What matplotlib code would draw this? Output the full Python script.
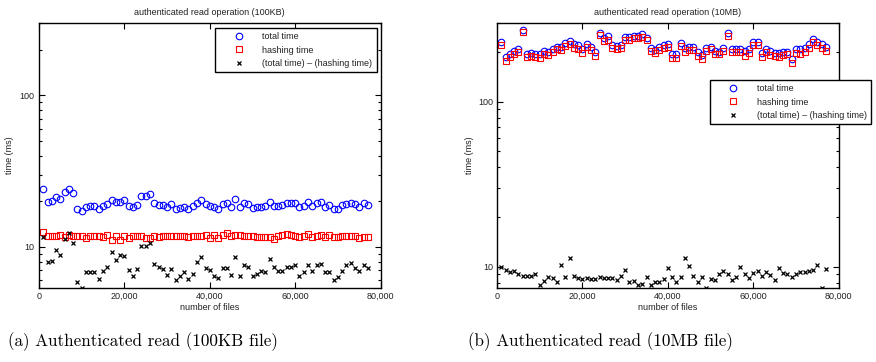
import matplotlib
matplotlib.use("Agg")
import matplotlib.pyplot as plt
import matplotlib.ticker as mticker
import numpy as np

plt.rcParams['font.family'] = ['Liberation Sans', 'DejaVu Sans']

# number of files (x1000)
files = np.arange(1, 78) * 1000

# 100KB file
total_100kb = [24.2, 19.8, 20.0, 21.4, 20.8, 23.1, 24.2, 22.5, 17.7, 17.2,
               18.4, 18.5, 18.6, 17.9, 18.6, 19.2, 20.3, 19.9, 19.9, 20.5,
               18.6, 18.2, 19.0, 21.6, 21.6, 22.2, 19.5, 19.0, 18.8, 18.3,
               19.1, 17.9, 18.1, 18.4, 17.9, 18.5, 19.6, 20.4, 19.3, 18.7,
               18.4, 17.7, 19.3, 19.6, 18.4, 20.7, 18.4, 19.6, 19.2, 18.1,
               18.4, 18.4, 18.5, 19.9, 18.6, 18.6, 18.8, 19.6, 19.4, 19.4,
               18.2, 18.7, 19.8, 18.6, 19.5, 19.8, 18.2, 18.8, 17.7, 17.9,
               18.8, 19.3, 19.6, 19.2, 18.3, 19.4, 18.8]
hash_100kb = [12.57, 11.71, 11.71, 11.71, 12.01, 11.59, 12.01, 11.71, 11.71, 11.71,
              11.47, 11.71, 11.71, 11.71, 11.59, 12.01, 11.07, 11.71, 11.07, 11.71,
              11.41, 11.71, 11.83, 11.71, 11.47, 11.47, 11.71, 11.59, 11.71, 11.71,
              11.71, 11.71, 11.71, 11.71, 11.65, 11.71, 11.71, 11.71, 11.95, 11.47,
              12.01, 11.41, 11.89, 12.38, 11.71, 12.01, 11.89, 11.71, 11.71, 11.71,
              11.59, 11.59, 11.59, 11.59, 11.30, 11.71, 11.89, 12.13, 11.89, 11.71,
              11.59, 11.71, 12.13, 11.59, 11.71, 11.89, 11.59, 11.89, 11.59, 11.59,
              11.71, 11.71, 11.71, 11.83, 11.47, 11.59, 11.59]
diff_100kb = [11.6, 7.96, 8.07, 9.6, 8.8, 11.3, 12.4, 10.6, 5.83, 5.32,
              6.83, 6.83, 6.83, 6.1, 6.97, 7.4, 9.27, 8.24, 8.8, 8.76,
              7.0, 6.45, 7.15, 10.1, 10.2, 10.6, 7.72, 7.4, 7.15, 6.52,
              7.15, 6.08, 6.4, 6.8, 6.14, 6.66, 7.9, 8.54, 7.22, 7.04,
              6.4, 6.26, 7.22, 7.22, 6.56, 8.63, 6.45, 7.56, 7.34, 6.4,
              6.59, 6.97, 6.83, 8.37, 7.34, 6.97, 6.97, 7.34, 7.34, 7.6,
              6.4, 6.83, 7.56, 6.94, 7.6, 7.72, 6.8, 6.87, 6.08, 6.36,
              6.97, 7.56, 7.85, 7.22, 6.97, 7.63, 7.22]

# 10MB file
total_10mb = [231, 187, 196, 204, 208, 274, 195, 198, 196, 194,
              203, 201, 208, 215, 215, 227, 235, 225, 220, 210,
              225, 214, 200, 262, 242, 250, 221, 217, 221, 246,
              246, 252, 252, 257, 245, 212, 207, 214, 221, 225,
              194, 194, 228, 212, 215, 214, 200, 193, 212, 214,
              203, 201, 212, 261, 208, 208, 208, 203, 208, 231,
              231, 198, 210, 203, 197, 197, 201, 201, 181, 210,
              209, 212, 225, 241, 231, 223, 215]
hash_10mb = [222, 176, 186, 194, 200, 265, 186, 189, 187, 183,
             194, 191, 200, 208, 206, 219, 225, 212, 210, 198,
             215, 206, 190, 254, 232, 238, 212, 208, 212, 238,
             236, 242, 242, 247, 238, 204, 197, 206, 212, 215,
             184, 184, 219, 201, 207, 207, 190, 181, 203, 208,
             194, 194, 202, 251, 200, 199, 199, 190, 198, 221,
             221, 187, 200, 193, 189, 186, 192, 194, 171, 198,
             196, 200, 213, 230, 221, 212, 202]
diff_10mb = [9.95, 9.59, 9.28, 9.50, 9.07, 8.78, 8.78, 8.78, 9.07, 7.82,
             8.26, 8.70, 8.58, 8.07, 10.3, 8.70, 11.4, 8.82, 8.62, 8.46,
             8.62, 8.50, 8.42, 8.70, 8.62, 8.54, 8.58, 8.38, 8.78, 9.59,
             8.11, 8.26, 7.78, 7.89, 8.70, 7.74, 8.11, 8.11, 8.50, 9.81,
             8.70, 8.15, 8.70, 11.4, 10.1, 8.78, 8.11, 8.70, 7.45, 8.50,
             8.38, 9.11, 9.50, 9.07, 8.34, 8.70, 9.95, 9.11, 8.54, 9.19,
             9.50, 8.78, 9.32, 8.95, 8.38, 9.91, 9.19, 9.07, 8.70, 9.07,
             9.28, 9.32, 9.50, 9.63, 10.3, 7.45, 9.68]

xticks = [0, 20000, 40000, 60000, 80000]
xticklabels = ['0', '20,000', '40,000', '60,000', '80,000']
yticks = [10, 100]
yticklabels = ['10', '100']
labels = ['total time', 'hashing time', '(total time) \u2013 (hashing time)']
titles = ['authenticated read operation (100KB)', 'authenticated read operation (10MB)']
captions = ['(a) Authenticated read (100KB file)', '(b) Authenticated read (10MB file)']

txt = '#222222'
fs = 6.5

fig = plt.figure(figsize=(8.76, 3.62), dpi=100)
ax1 = fig.add_axes([0.0445, 0.2044, 0.390, 0.732])
ax2 = fig.add_axes([0.5674, 0.2044, 0.390, 0.732])


def draw(ax, total, hashing, diff, title, ylim, leg_anchor, ylpad):
    ax.plot(files, total, 'o', mfc='none', mec='blue', ms=4.7, mew=0.8, label=labels[0])
    ax.plot(files, hashing, 's', mfc='none', mec='red', ms=4.0, mew=0.8, label=labels[1])
    ax.plot(files, diff, 'x', color='black', ms=3.2, mew=0.9, label=labels[2])
    ax.set_yscale('log')
    ax.set_xlim(0, 80000)
    ax.set_ylim(*ylim)
    ax.set_xticks(xticks)
    ax.set_xticklabels(xticklabels)
    ax.set_yticks(yticks)
    ax.set_yticklabels(yticklabels)
    ax.yaxis.set_minor_locator(mticker.LogLocator(base=10, subs=np.arange(2, 10)))
    ax.yaxis.set_minor_formatter(mticker.NullFormatter())
    ax.tick_params(which='both', direction='in', top=True, right=True,
                   labelsize=fs, labelcolor=txt, width=0.8, pad=3)
    ax.tick_params(which='major', length=4)
    ax.tick_params(which='minor', length=2)
    for s in ax.spines.values():
        s.set_linewidth(1.0)
    ax.set_title(title, fontsize=fs, color=txt, pad=6)
    ax.set_xlabel('number of files', fontsize=fs, color=txt, labelpad=1)
    ax.set_ylabel('time (ms)', fontsize=fs, color=txt, labelpad=ylpad)
    leg = ax.legend(loc='upper right', bbox_to_anchor=leg_anchor, fontsize=fs,
                    fancybox=False, framealpha=1, edgecolor='black',
                    borderpad=0.45, handlelength=4.3, handletextpad=0.5,
                    labelspacing=0.5, borderaxespad=0)
    leg.get_frame().set_linewidth(1.0)
    for t in leg.get_texts():
        t.set_color(txt)


draw(ax1, total_100kb, hash_100kb, diff_100kb, titles[0], (5.35, 300), (0.988, 0.981), 4)
draw(ax2, total_10mb, hash_10mb, diff_10mb, titles[1], (7.45, 300), (1.096, 0.785), 3)

fig.text(0.163, 0.055, captions[0], fontsize=12.3, family='cmr10', ha='center', va='center')
fig.text(0.686, 0.055, captions[1], fontsize=12.3, family='cmr10', ha='center', va='center')

fig.savefig('out.png', dpi=100)
